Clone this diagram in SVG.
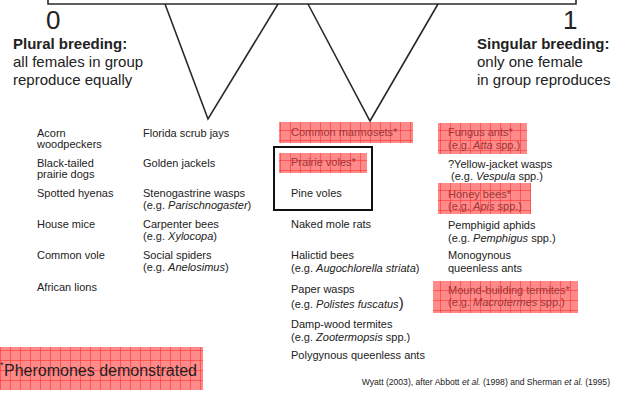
<svg xmlns="http://www.w3.org/2000/svg" width="625" height="394" viewBox="0 0 625 394">
<style>
text{font-family:"Liberation Sans",Arial,sans-serif;fill:#222}
.sp{font-size:11px}
.ph{fill:#9e3636}
.hd{font-size:15px;font-weight:bold}
.sub{font-size:15px}
.num{font-size:26px}
.it{font-style:italic}
.ln{fill:none;stroke:#2a2a2a;stroke-width:1.6;stroke-linejoin:miter}
.hl{fill:url(#grid)}
</style>
<defs>
<pattern id="grid" patternUnits="userSpaceOnUse" width="10" height="10">
<rect width="10" height="10" fill="#ff8a8a"/>
<path d="M0 0H10M0 0V10" stroke="#ff2222" stroke-width="1"/>
</pattern>
</defs>
<rect width="625" height="394" fill="#fff"/>
<g id="connectors">
<path class="ln" d="M48 0V4H576V0" stroke-width="2"/>
<path class="ln" d="M165 4L208 119L278 4"/>
<path class="ln" d="M308 4L370 121L438 4"/>
</g>
<g id="scale-0">
<text class="num" x="46" y="29">0</text>
<text class="hd" x="13" y="49">Plural breeding:</text>
<text class="sub" x="13" y="67">all females in group</text>
<text class="sub" x="13" y="85">reproduce equally</text>
</g>
<g id="scale-1">
<text class="num" x="563" y="29">1</text>
<text class="hd" x="477" y="49">Singular breeding:</text>
<text class="sub" x="477" y="67">only one female</text>
<text class="sub" x="477" y="85">in group reproduces</text>
</g>
<g id="col1">
<text class="sp" x="37" y="137">Acorn</text>
<text class="sp" x="37" y="148">woodpeckers</text>
<text class="sp" x="37" y="167">Black-tailed</text>
<text class="sp" x="37" y="178">prairie dogs</text>
<text class="sp" x="37" y="197">Spotted hyenas</text>
<text class="sp" x="37" y="228">House mice</text>
<text class="sp" x="37" y="259">Common vole</text>
<text class="sp" x="37" y="291">African lions</text>
</g>
<g id="col2">
<text class="sp" x="143" y="137">Florida scrub jays</text>
<text class="sp" x="143" y="167">Golden jackels</text>
<text class="sp" x="143" y="197">Stenogastrine wasps</text>
<text class="sp" x="143" y="209">(e.g. <tspan class="it">Parischnogaster</tspan>)</text>
<text class="sp" x="143" y="228">Carpenter bees</text>
<text class="sp" x="143" y="240">(e.g. <tspan class="it">Xylocopa</tspan>)</text>
<text class="sp" x="143" y="259">Social spiders</text>
<text class="sp" x="143" y="271">(e.g. <tspan class="it">Anelosimus</tspan>)</text>
</g>
<g id="col3">
<g id="marmosets">
<rect class="hl" x="279" y="122" width="134" height="21"/>
<text class="sp ph" x="291" y="136">Common marmosets*</text>
</g>
<g id="voles-box">
<rect x="274" y="147" width="98" height="63" fill="none" stroke="#111" stroke-width="2"/>
<rect class="hl" x="279" y="153" width="88" height="20"/>
<text class="sp ph" x="291" y="166">Prairie voles*</text>
<text class="sp" x="291" y="197">Pine voles</text>
</g>
<text class="sp" x="291" y="228">Naked mole rats</text>
<text class="sp" x="291" y="259">Halictid bees</text>
<text class="sp" x="291" y="272">(e.g. <tspan class="it">Augochlorella striata</tspan>)</text>
<text class="sp" x="291" y="293">Paper wasps</text>
<text class="sp" x="291" y="308">(e.g. <tspan class="it">Polistes fuscatus</tspan><tspan font-size="15">)</tspan></text>
<text class="sp" x="291" y="328">Damp-wood termites</text>
<text class="sp" x="291" y="341">(e.g. <tspan class="it">Zootermopsis</tspan> spp.)</text>
<text class="sp" x="291" y="359">Polygynous queenless ants</text>
</g>
<g id="col4">
<g id="fungus-ants">
<rect class="hl" x="438" y="123" width="89" height="31"/>
<text class="sp ph" x="448" y="136">Fungus ants*</text>
<text class="sp ph" x="448" y="149">(e.g. <tspan class="it">Atta</tspan> spp.)</text>
</g>
<text class="sp" x="448" y="168">?Yellow-jacket wasps</text>
<text class="sp" x="451" y="180">(e.g. <tspan class="it">Vespula</tspan> spp.)</text>
<g id="honey-bees">
<rect class="hl" x="438" y="183" width="93" height="31"/>
<text class="sp ph" x="448" y="198">Honey bees*</text>
<text class="sp ph" x="448" y="210">(e.g. <tspan class="it">Apis</tspan> spp.)</text>
</g>
<text class="sp" x="448" y="229">Pemphigid aphids</text>
<text class="sp" x="448" y="242">(e.g. <tspan class="it">Pemphigus</tspan> spp.)</text>
<text class="sp" x="448" y="259">Monogynous</text>
<text class="sp" x="448" y="272">queenless ants</text>
<g id="termites">
<rect class="hl" x="433" y="281" width="145" height="32"/>
<text class="sp ph" x="448" y="294">Mound-building termites*</text>
<text class="sp ph" x="448" y="306">(e.g. <tspan class="it">Macrotermes</tspan> spp.)</text>
</g>
</g>
<g id="legend">
<rect class="hl" x="0" y="347" width="203" height="43"/>
<text x="0" y="368" font-size="9" fill="#111">*</text>
<text x="4" y="376" font-size="16" fill="#111">Pheromones demonstrated</text>
</g>
<g id="citation">
<text x="610" y="385" font-size="8.6" text-anchor="end">Wyatt (2003), after Abbott <tspan class="it">et al.</tspan> (1998) and Sherman <tspan class="it">et al.</tspan> (1995)</text>
</g>
</svg>
